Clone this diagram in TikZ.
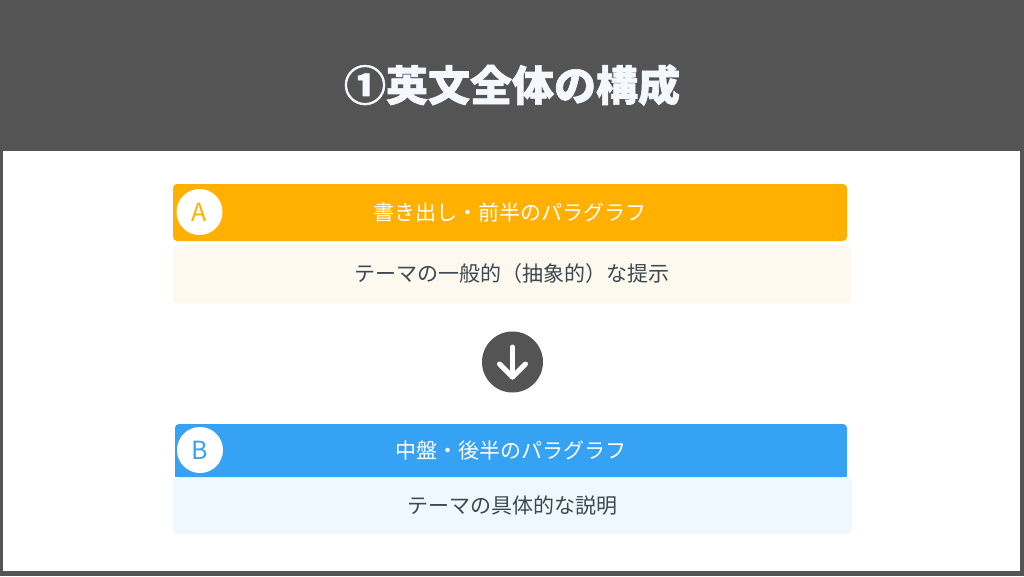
\documentclass[tikz,border=0pt]{standalone}
\usepackage{fontspec}
\setmainfont{Noto Sans CJK JP}
\newfontfamily\heavyfont[BoldFeatures={FakeBold=1.5}]{Noto Sans CJK JP}
\usetikzlibrary{positioning}

\definecolor{band}{HTML}{545454}
\definecolor{orangeA}{HTML}{FFB000}
\definecolor{creamA}{HTML}{FEF9EE}
\definecolor{blueB}{HTML}{35A2F4}
\definecolor{paleB}{HTML}{F0F8FF}
\definecolor{bodytext}{HTML}{3A4852}

\tikzset{
  hdr/.style={rounded corners=4pt, minimum width=674pt, minimum height=57pt,
    inner sep=0pt, text=white, font=\fontsize{21}{25}\selectfont},
  bodybox/.style={rounded corners=4pt, minimum width=678pt, minimum height=58pt,
    inner sep=0pt, text=bodytext, font=\fontsize{21}{25}\selectfont},
  badge/.style={circle, fill=white, minimum size=46pt, inner sep=0pt,
    font=\fontsize{25}{29}\selectfont}
}

\begin{document}
\begin{tikzpicture}[x=1pt, y=-1pt]
    \useasboundingbox (0,0) rectangle (1024,576);
    \fill[band] (0,0) rectangle (1024,576);
    \fill[white] (3,151) rectangle (1020,571);

    \node[text={rgb,255:red,245;green,249;blue,255}, font=\fontsize{42}{50}\selectfont\heavyfont\bfseries] (title) at (512,85) {①英文全体の構成};

    % first part
    \node[hdr, fill=orangeA] (hA) at (510,212.5) {書き出し・前半のパラグラフ};
    \node[bodybox, fill=creamA] (bA) at (512,274) {テーマの一般的（抽象的）な提示};
    \node[badge, text=orangeA] (cA) at (199.5,212) {A};

    % arrow between
    \node[circle, fill=band, minimum size=61pt, inner sep=0pt] (arr) at (512.5,362) {};
    \coordinate (arrtop) at (512.5,347);
    \coordinate (arrtip) at (512.5,377);
    \draw[white, line width=5pt, line cap=round, line join=round] (arrtop) -- (arrtip);
    \draw[white, line width=5pt, line cap=round, line join=round]
      (499.5,364) -- (arrtip) -- (525.5,364);

    % second part
    \node[bodybox, fill=paleB, minimum width=679pt, minimum height=57pt] (bB) at (512.5,505.5) {テーマの具体的な説明};
    \node[hdr, fill=blueB, minimum width=672pt, minimum height=53pt] (hB) at (511,450.5) {中盤・後半のパラグラフ};
    \fill[blueB] ([yshift=4pt]hB.south west) rectangle (hB.south east);
    \node[badge, text=blueB] (cB) at (200,450) {B};
\end{tikzpicture}
\end{document}
